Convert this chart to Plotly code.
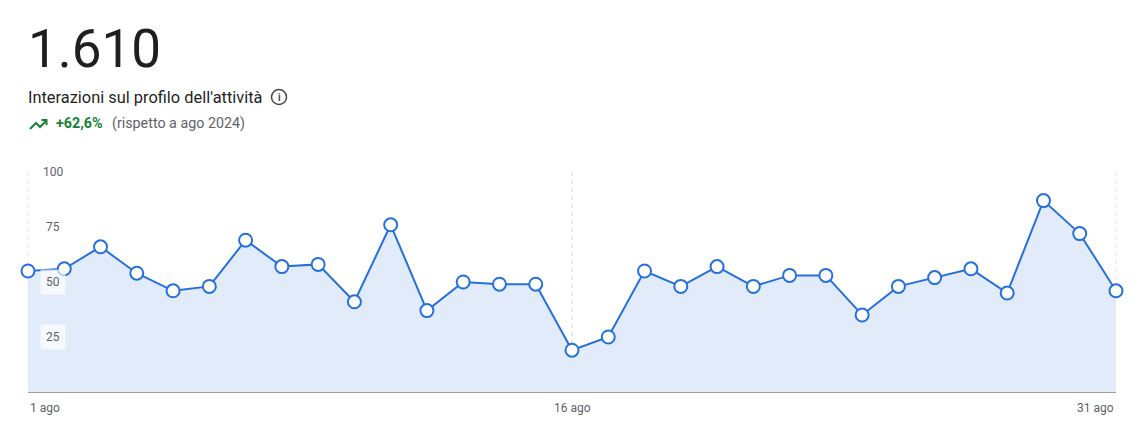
import plotly.graph_objects as go

# interazioni giornaliere, agosto
days = list(range(1, 32))
interactions = [55, 56, 66, 54, 46, 48, 69, 57, 58, 41, 76, 37, 50, 49, 49,
                19, 25, 55, 48, 57, 48, 53, 53, 35, 48, 52, 56, 45, 87, 72, 46]
y_ticks = [25, 50, 75, 100]
x_ticks = [1, 16, 31]
x_labels = ["1 ago", "16 ago", "31 ago"]

# the page body has an 8px margin, so the figure is a bit smaller
OFF = 8
W, H = 1144 - OFF, 426 - OFF
PX0, PX1, PY0, PY1 = 28, 1116, 172, 392   # plot area in window pixels
L, T = PX0 - OFF, PY0 - OFF
R = W - L - (PX1 - PX0)
B = H - T - (PY1 - PY0)
PW, PH = PX1 - PX0, PY1 - PY0

BLUE = "#2670d9"
GREY = "#5f6368"
GREEN = "#188038"


def px(x):
    return (x - PX0) / PW


def py(y):
    return (PY1 - y) / PH


fig = go.Figure()

# linee verticali tratteggiate
for d in x_ticks:
    fig.add_shape(type="line", xref="x", yref="paper", x0=d, x1=d, y0=0, y1=1,
                  line=dict(color="#d3d5d9", width=1, dash="4px,4px"), layer="below")

fig.add_trace(
    go.Scatter(
        x=days,
        y=interactions,
        mode="lines+markers",
        fill="tozeroy",
        fillcolor="#e2ebfa",
        line=dict(color=BLUE, width=2),
        marker=dict(size=13, color="white", line=dict(color=BLUE, width=2)),
        hoverinfo="x+y",
        cliponaxis=False,
    )
)

# etichette asse y dentro il grafico
for v in y_ticks:
    fig.add_annotation(
        xref="paper", yref="y", x=0, y=v, xshift=25,
        text=str(v), showarrow=False, xanchor="center", yanchor="middle",
        font=dict(size=12, color=GREY),
        bgcolor="rgba(255,255,255,0.65)", borderpad=5,
    )

# etichette asse x
anchors = ["left", "center", "right"]
for d, lab, a in zip(x_ticks, x_labels, anchors):
    fig.add_annotation(
        xref="x", yref="paper", x=d, y=0, yshift=-16,
        text=lab, showarrow=False, xanchor=a, yanchor="middle",
        font=dict(size=12, color=GREY),
    )

total = sum(interactions)
fig.add_annotation(
    xref="paper", yref="paper", x=px(26), y=py(49),
    text=f"{total:,}".replace(",", "."), showarrow=False,
    xanchor="left", yanchor="middle",
    font=dict(size=53, color="#1f1f1f"),
)
fig.add_annotation(
    xref="paper", yref="paper", x=px(26), y=py(97),
    text="Interazioni sul profilo dell'attività", showarrow=False,
    xanchor="left", yanchor="middle",
    font=dict(size=16.4, color="#1f1f1f"),
)
fig.add_annotation(
    xref="paper", yref="paper", x=px(54), y=py(123),
    text="<b>+62,6%</b>", showarrow=False,
    xanchor="left", yanchor="middle",
    font=dict(size=14.3, color=GREEN),
)
fig.add_annotation(
    xref="paper", yref="paper", x=px(110), y=py(123),
    text="(rispetto a ago 2024)", showarrow=False,
    xanchor="left", yanchor="middle",
    font=dict(size=14.3, color=GREY),
)

# icona info
fig.add_shape(
    type="circle", xref="paper", yref="paper",
    x0=px(271.5), x1=px(286.5), y0=py(104.5), y1=py(89.5),
    line=dict(color="#444746", width=1.5),
)
fig.add_annotation(
    xref="paper", yref="paper", x=px(279), y=py(97.5),
    text="<b>i</b>", showarrow=False, xanchor="center", yanchor="middle",
    font=dict(size=10, color="#444746"),
)

# icona freccia in salita
pts = [(30, 129), (36, 123), (40, 127), (46, 121)]
path = "M " + " L ".join(f"{px(a)},{py(b)}" for a, b in pts)
fig.add_shape(type="path", xref="paper", yref="paper", path=path,
              line=dict(color=GREEN, width=2))
head = [(41.5, 120), (46.5, 120), (46.5, 125)]
path = "M " + " L ".join(f"{px(a)},{py(b)}" for a, b in head)
fig.add_shape(type="path", xref="paper", yref="paper", path=path,
              line=dict(color=GREEN, width=2))

fig.update_layout(
    width=W, height=H,
    margin=dict(l=L, r=R, t=T, b=B),
    paper_bgcolor="white", plot_bgcolor="white",
    font=dict(family="Roboto, sans-serif"),
    showlegend=False,
    xaxis=dict(
        range=[1, 31], showticklabels=False, showgrid=False,
        showline=True, linecolor="#9aa0a6", linewidth=1,
        zeroline=False, fixedrange=True,
    ),
    yaxis=dict(
        range=[0, 100], showgrid=False, showticklabels=False,
        zeroline=False, fixedrange=True,
    ),
)

fig.write_html("out.html")
